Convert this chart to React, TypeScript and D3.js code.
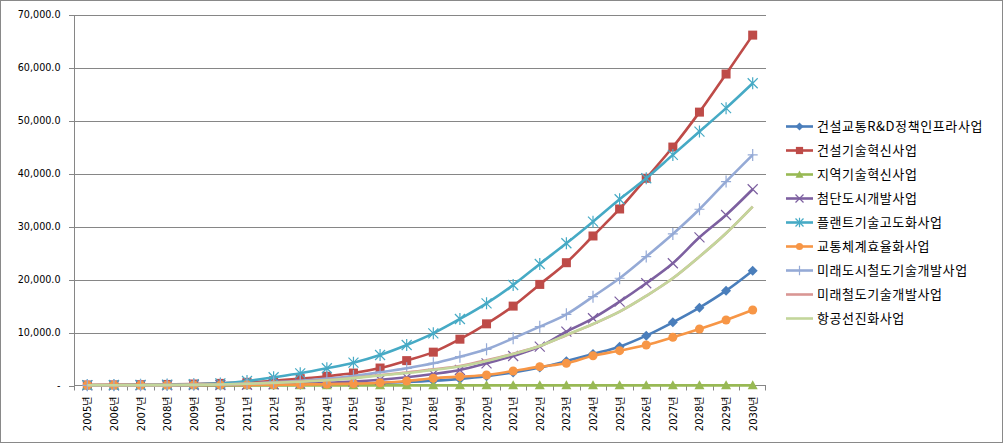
import React from 'react';
import * as d3 from 'd3';

const years = [
  '2005년', '2006년', '2007년', '2008년', '2009년', '2010년', '2011년', '2012년', '2013년',
  '2014년', '2015년', '2016년', '2017년', '2018년', '2019년', '2020년', '2021년', '2022년',
  '2023년', '2024년', '2025년', '2026년', '2027년', '2028년', '2029년', '2030년',
];

const seriesNames = [
  '건설교통R&D정책인프라사업',
  '건설기술혁신사업',
  '지역기술혁신사업',
  '첨단도시개발사업',
  '플랜트기술고도화사업',
  '교통체계효율화사업',
  '미래도시철도기술개발사업',
  '미래철도기술개발사업',
  '항공선진화사업',
];

const rndInfra = [20, 25, 30, 35, 45, 60, 80, 110, 160, 230, 330, 470, 650, 900, 1250, 1750, 2450, 3400, 4600, 5950, 7340, 9420, 11940, 14710, 17920, 21700];
const constructionTech = [100, 120, 150, 200, 280, 400, 600, 900, 1300, 1750, 2350, 3300, 4700, 6300, 8750, 11650, 15000, 19100, 23200, 28250, 33350, 39150, 45050, 51650, 58850, 66200];
const regionalTech = [30, 30, 30, 30, 30, 30, 30, 30, 30, 30, 30, 30, 30, 30, 30, 30, 30, 30, 30, 30, 30, 30, 30, 30, 30, 30];
const advancedCity = [20, 30, 40, 55, 75, 100, 150, 230, 340, 500, 730, 1080, 1550, 2170, 2930, 4190, 5580, 7340, 10170, 12700, 15840, 19310, 23090, 28000, 32220, 37080];
const plantTech = [80, 100, 130, 170, 250, 400, 850, 1550, 2300, 3250, 4310, 5760, 7650, 9860, 12570, 15530, 18990, 22960, 26870, 30960, 35190, 39160, 43570, 47970, 52400, 57100];
const trafficEff = [90, 95, 100, 105, 110, 115, 120, 130, 180, 250, 350, 530, 850, 1360, 1670, 1980, 2740, 3560, 4190, 5630, 6580, 7650, 9110, 10680, 12380, 14270];
const urbanRail = [40, 50, 60, 80, 120, 200, 350, 600, 900, 1300, 1800, 2500, 3250, 4190, 5450, 6840, 8920, 11120, 13450, 16790, 20260, 24350, 28630, 33300, 38520, 43560];
const futureRail = [40, 50, 60, 80, 120, 200, 330, 520, 760, 1050, 1450, 1950, 2450, 3050, 3700, 4750, 6000, 7450, 9500, 11600, 13950, 16920, 20260, 24350, 28770, 33800];
const aviation = [40, 50, 60, 80, 120, 200, 320, 500, 720, 1000, 1400, 1900, 2350, 2950, 3580, 4630, 5950, 7470, 9540, 11620, 13950, 16920, 20260, 24350, 28770, 33800];

const yTicks = [0, 10000, 20000, 30000, 40000, 50000, 60000, 70000];

const colors = ['#4A7EBB', '#BE4B48', '#98B954', '#7D60A0', '#46AAC5', '#F79646', '#95AAD6', '#D99694', '#C3D69B'];
const markers = ['diamond', 'square', 'triangle', 'x', 'asterisk', 'circle', 'plus', 'none', 'none'];
const allValues = [rndInfra, constructionTech, regionalTech, advancedCity, plantTech, trafficEff, urbanRail, futureRail, aviation];

const W = 1004;
const H = 445;
const plot = { left: 74, right: 766, top: 15, bottom: 385.5 };
const axisFont = '"DejaVu Sans", "Noto Sans CJK KR", sans-serif';
const koFont = '"Noto Sans CJK KR", "DejaVu Sans", sans-serif';

function Marker({ kind, x, y, color, s = 1 }: { kind: string; x: number; y: number; color: string; s?: number }) {
  switch (kind) {
    case 'diamond':
      return <path d={`M${x},${y - 5 * s}L${x + 5 * s},${y}L${x},${y + 5 * s}L${x - 5 * s},${y}Z`} fill={color} />;
    case 'square':
      return <rect x={x - 4.5 * s} y={y - 4.5 * s} width={9 * s} height={9 * s} fill={color} />;
    case 'triangle':
      return <path d={`M${x},${y - 5 * s}L${x + 5 * s},${y + 4 * s}L${x - 5 * s},${y + 4 * s}Z`} fill={color} />;
    case 'circle':
      return <circle cx={x} cy={y} r={4.5 * s} fill={color} />;
    case 'x':
      return (
        <path d={`M${x - 5 * s},${y - 5 * s}L${x + 5 * s},${y + 5 * s}M${x + 5 * s},${y - 5 * s}L${x - 5 * s},${y + 5 * s}`} stroke={color} strokeWidth={1.2} />
      );
    case 'asterisk':
      return (
        <path d={`M${x - 5 * s},${y - 5 * s}L${x + 5 * s},${y + 5 * s}M${x + 5 * s},${y - 5 * s}L${x - 5 * s},${y + 5 * s}M${x},${y - 6 * s}L${x},${y + 6 * s}`} stroke={color} strokeWidth={1.2} />
      );
    case 'plus':
      return <path d={`M${x - 5 * s},${y}L${x + 5 * s},${y}M${x},${y - 6 * s}L${x},${y + 6 * s}`} stroke={color} strokeWidth={1.2} />;
    default:
      return null;
  }
}

export default function App() {
  const x = d3.scaleBand().domain(years).range([plot.left, plot.right]);
  const y = d3.scaleLinear().domain([0, 70000]).range([plot.bottom, plot.top]);
  const cx = (d: string) => (x(d) ?? 0) + x.bandwidth() / 2;

  const line = d3
    .line<number>()
    .x((_, i) => cx(years[i]))
    .y((v) => y(v))
    .curve(d3.curveMonotoneX);

  const fmt = d3.format(',.1f');

  return (
    <svg width={W} height={H} style={{ position: 'absolute', left: 0, top: 0 }}>
      <rect x={0} y={0} width={W} height={H} fill="#fff" />
      <rect x={0.5} y={0.5} width={1002} height={442} fill="none" stroke="#898989" />

      {/* grid */}
      {yTicks.slice(1).map((t) => (
        <line key={t} x1={plot.left} x2={plot.right} y1={Math.round(y(t)) + 0.5} y2={Math.round(y(t)) + 0.5} stroke="#868686" />
      ))}

      {/* y axis */}
      <line x1={plot.left + 0.5} x2={plot.left + 0.5} y1={plot.top} y2={plot.bottom} stroke="#868686" />
      {yTicks.map((t) => (
        <g key={t}>
          <line x1={plot.left - 5} x2={plot.left} y1={Math.round(y(t)) + 0.5} y2={Math.round(y(t)) + 0.5} stroke="#868686" />
          <text x={60.5} y={y(t)} dy="0.35em" textAnchor="end" fontFamily={axisFont} fontSize={9.6} fill="#000">
            {t === 0 ? '-' : fmt(t)}
          </text>
        </g>
      ))}

      {/* x axis */}
      <line x1={plot.left} x2={plot.right} y1={plot.bottom} y2={plot.bottom} stroke="#868686" />
      {years.map((d) => (
        <line key={'t' + d} x1={Math.round(x(d) ?? 0) + 0.5} x2={Math.round(x(d) ?? 0) + 0.5} y1={plot.bottom} y2={plot.bottom + 5} stroke="#868686" />
      ))}
      <line x1={plot.right - 0.5} x2={plot.right - 0.5} y1={plot.bottom} y2={plot.bottom + 5} stroke="#868686" />
      {years.map((d) => (
        <text
          key={'l' + d}
          transform={`translate(${cx(d) + 4},${plot.bottom + 11}) rotate(-90)`}
          textAnchor="end"
          fontFamily={axisFont}
          fontSize={10}
          fill="#000"
        >
          {d}
        </text>
      ))}

      {/* series */}
      {allValues.map((vals, si) => (
        <g key={seriesNames[si]}>
          <path d={line(vals) ?? ''} fill="none" stroke={colors[si]} strokeWidth={2.6} strokeLinejoin="round" />
          {vals.map((v, i) => (
            <Marker key={i} kind={markers[si]} x={cx(years[i])} y={y(v)} color={colors[si]} />
          ))}
        </g>
      ))}

      {/* legend */}
      {seriesNames.map((name, i) => {
        const ly = 126.5 + i * 24;
        return (
          <g key={'lg' + name}>
            <line x1={786} x2={813} y1={ly} y2={ly} stroke={colors[i]} strokeWidth={2.6} />
            <Marker kind={markers[i]} x={799.5} y={ly} color={colors[i]} s={0.8} />
            <text x={817} y={ly} dy="0.38em" fontFamily={koFont} fontSize={13} letterSpacing={0.6} fill="#000">
              {name}
            </text>
          </g>
        );
      })}
    </svg>
  );
}
